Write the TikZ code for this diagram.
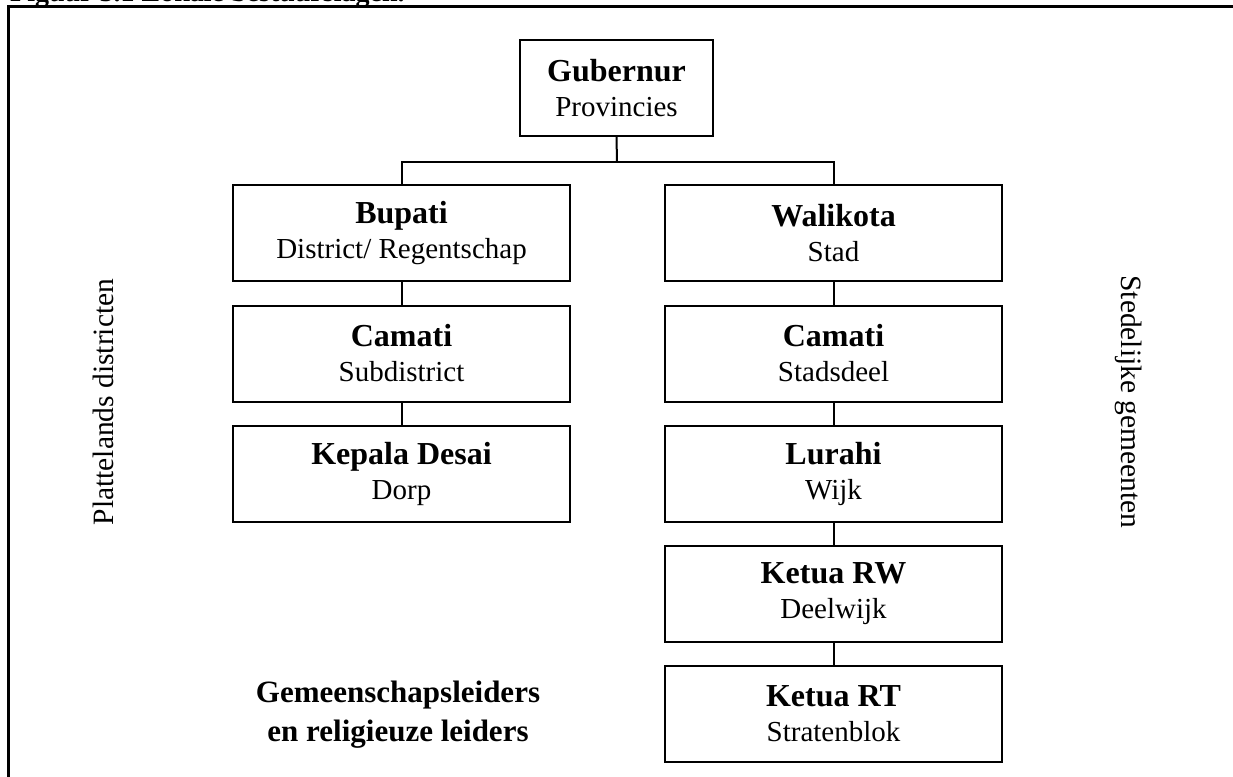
\documentclass[tikz,border=0pt]{standalone}
\usepackage{fontspec}
\setmainfont{Liberation Serif}
\begin{document}
\begin{tikzpicture}[x=1pt,y=-1pt,
  office/.style={draw=black, line width=2pt, rectangle, align=center,
    minimum height=96pt, inner sep=0pt, font=\fontsize{29}{35}\selectfont},
  wide/.style={office, minimum width=337pt},
  link/.style={draw=black, line width=2pt},
  frame/.style={draw=black, line width=3pt},
  side/.style={font=\fontsize{29.5}{34}\selectfont, inner sep=0pt}]
\useasboundingbox (0,0) rectangle (1233,776);

% caption and frame
\node[anchor=base west, inner sep=0pt, font=\bfseries\fontsize{28}{32}\selectfont]
  (cap) at (10,2) {Figuur 3.1 Lokale bestuurslagen.};
\draw[frame] (8,790) -- (8,7) -- (1250,7);

\newcommand{\post}[2]{{\bfseries\fontsize{32}{36}\selectfont #1}\\{\fontsize{29}{36}\selectfont #2}}

% province
\node[office, minimum width=193pt] (gub) at (616.5,88) {\post{Gubernur}{Provincies}};

% rural branch
\node[wide] (bup) at (401.5,233) {\post{Bupati}{District/ Regentschap}};
\node[wide] (cam1) at (401.5,353.5) {\post{Camati}{Subdistrict}};
\node[wide] (kep) at (401.5,474) {\post{Kepala Desai}{Dorp}};

% urban branch
\node[wide] (wal) at (833.5,233) {\post{Walikota}{Stad}};
\node[wide] (cam2) at (833.5,353.5) {\post{Camati}{Stadsdeel}};
\node[wide] (lur) at (833.5,474) {\post{Lurahi}{Wijk}};
\node[wide] (rw) at (833.5,594) {\post{Ketua RW}{Deelwijk}};
\node[wide] (rt) at (833.5,714) {\post{Ketua RT}{Stratenblok}};

% connectors
\coordinate (fork) at (617,162);
\draw[link] (gub.south) -- (fork);
\draw[link] (bup.north) |- (fork) -| (wal.north);
\draw[link] (bup) -- (cam1);
\draw[link] (cam1) -- (kep);
\draw[link] (wal) -- (cam2);
\draw[link] (cam2) -- (lur);
\draw[link] (lur) -- (rw);
\draw[link] (rw) -- (rt);

% side labels
\node[side, rotate=90] (rural) at (103,402) {Plattelands districten};
\node[side, rotate=-90] (urban) at (1129,402) {Stedelijke gemeenten};

% community leaders
\node[align=center, inner sep=0pt, font=\bfseries\fontsize{31}{39}\selectfont]
  (comm) at (398,715) {Gemeenschapsleiders\\en religieuze leiders};
\end{tikzpicture}
\end{document}
